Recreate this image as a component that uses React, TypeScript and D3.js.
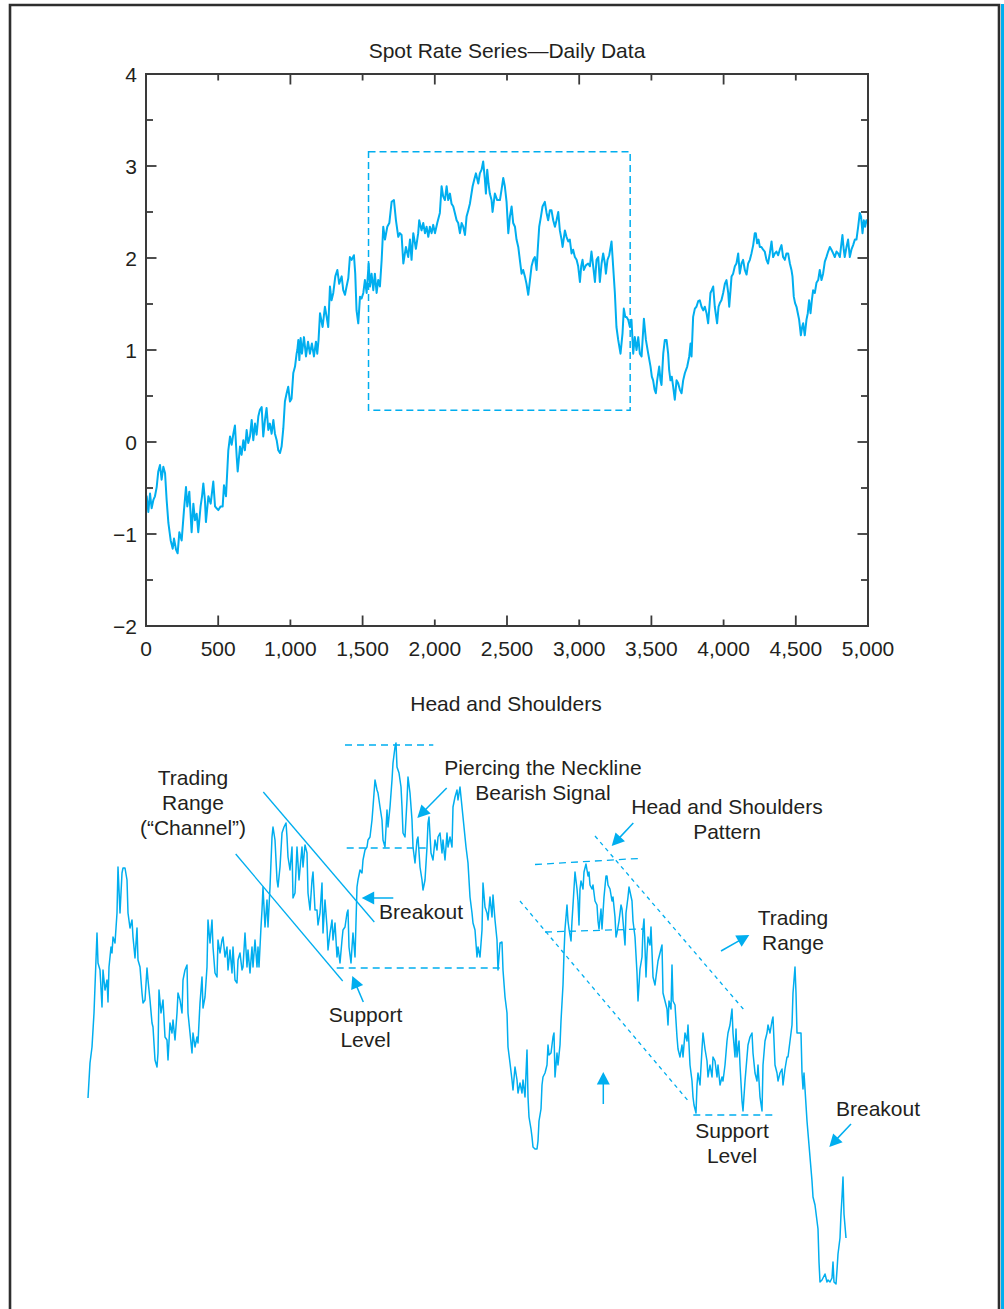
import React from 'react';
import * as d3 from 'd3';

// ---------- DATA ----------
// Spot rate series (day index, value)
const spotSeries: [number, number][] = [
  [0,-0.67],[5,-0.59],[16,-0.76],[28,-0.56],[39,-0.72],[51,-0.63],[62,-0.59],[74,-0.49],[85,-0.32],[97,-0.25],
  [108,-0.41],[120,-0.27],[132,-0.34],[143,-0.63],[155,-0.88],[171,-1.07],[185,-1.16],[194,-1.05],[208,-1.17],[219,-1.21],
  [231,-0.98],[247,-1.07],[263,-0.74],[277,-0.49],[286,-0.70],[300,-0.54],[316,-0.98],[328,-0.67],[339,-0.85],[351,-0.78],
  [362,-0.98],[378,-0.70],[388,-0.59],[397,-0.45],[408,-0.63],[415,-0.87],[432,-0.59],[448,-0.67],[466,-0.43],[478,-0.70],
  [489,-0.72],[501,-0.74],[517,-0.70],[531,-0.70],[540,-0.47],[554,-0.59],[570,-0.09],[582,0.06],[593,-0.03],[605,0.09],
  [616,0.18],[628,-0.16],[635,-0.32],[651,-0.05],[662,-0.14],[674,0.02],[685,-0.09],[697,0.13],[708,-0.01],[720,0.06],
  [732,0.24],[743,0.02],[755,0.20],[766,0.08],[778,0.28],[789,0.35],[801,0.38],[812,0.06],[824,0.24],[835,0.37],
  [847,0.13],[858,0.20],[870,0.09],[882,0.24],[893,0.09],[905,0.02],[916,-0.09],[928,-0.12],[939,-0.05],[951,0.15],
  [962,0.44],[974,0.53],[985,0.60],[997,0.44],[1008,0.47],[1020,0.75],[1032,0.82],[1043,0.96],[1048,1.0],[1055,1.11],
  [1062,0.89],[1071,1.13],[1080,0.96],[1094,1.14],[1108,0.93],[1122,1.09],[1135,0.96],[1149,1.07],[1163,0.93],[1177,1.09],
  [1186,0.96],[1195,1.11],[1205,1.40],[1223,1.25],[1239,1.47],[1251,1.36],[1262,1.25],[1274,1.69],[1285,1.54],[1297,1.62],
  [1311,1.80],[1325,1.87],[1338,1.72],[1355,1.80],[1366,1.65],[1378,1.60],[1389,1.69],[1401,1.78],[1412,2.01],[1424,1.98],
  [1440,2.03],[1449,1.83],[1458,1.43],[1470,1.29],[1482,1.58],[1493,1.56],[1505,1.62],[1516,1.76],[1528,1.62],[1542,1.94],
  [1551,1.69],[1562,1.83],[1574,1.65],[1585,1.83],[1597,1.62],[1608,1.76],[1620,1.69],[1632,1.98],[1643,2.34],[1655,2.20],
  [1671,2.34],[1685,2.38],[1701,2.61],[1717,2.63],[1731,2.41],[1747,2.23],[1758,2.27],[1770,2.25],[1782,1.94],[1800,2.12],
  [1816,2.01],[1828,2.20],[1839,1.98],[1851,2.27],[1869,2.10],[1885,2.27],[1892,2.41],[1908,2.30],[1920,2.38],[1932,2.27],
  [1943,2.34],[1955,2.23],[1966,2.34],[1978,2.27],[1989,2.36],[2001,2.27],[2017,2.38],[2035,2.49],[2047,2.78],[2058,2.67],
  [2070,2.63],[2082,2.78],[2093,2.63],[2105,2.70],[2116,2.59],[2128,2.56],[2139,2.49],[2151,2.41],[2162,2.38],[2174,2.27],
  [2186,2.38],[2197,2.34],[2209,2.25],[2220,2.45],[2232,2.52],[2243,2.59],[2262,2.78],[2273,2.85],[2285,2.92],[2301,2.81],
  [2312,2.92],[2324,2.96],[2335,3.05],[2347,2.85],[2354,2.70],[2363,2.96],[2372,2.81],[2381,2.70],[2393,2.63],[2400,2.50],
  [2416,2.70],[2432,2.63],[2451,2.63],[2462,2.74],[2474,2.87],[2485,2.78],[2497,2.61],[2509,2.27],[2520,2.45],[2532,2.56],
  [2543,2.38],[2555,2.34],[2566,2.20],[2578,2.12],[2589,1.98],[2601,1.83],[2612,1.87],[2624,1.80],[2635,1.72],[2647,1.60],
  [2659,1.76],[2670,1.91],[2682,1.98],[2693,2.01],[2705,1.87],[2714,2.12],[2723,2.34],[2735,2.45],[2746,2.56],[2762,2.61],
  [2774,2.49],[2785,2.41],[2797,2.52],[2808,2.52],[2820,2.41],[2832,2.34],[2843,2.41],[2855,2.50],[2866,2.30],[2878,2.20],
  [2885,2.12],[2901,2.30],[2912,2.23],[2924,2.18],[2935,2.20],[2947,2.05],[2958,2.09],[2970,2.01],[2982,1.98],[2993,1.91],
  [3005,1.74],[3014,1.91],[3023,1.98],[3032,1.87],[3046,1.92],[3062,1.94],[3074,1.91],[3085,2.07],[3097,1.91],[3109,1.74],
  [3120,1.98],[3132,2.01],[3143,1.74],[3155,1.94],[3166,2.05],[3178,1.94],[3185,1.83],[3196,1.98],[3208,2.03],[3224,2.18],
  [3235,1.91],[3247,1.62],[3258,1.25],[3270,1.11],[3286,0.96],[3293,1.07],[3300,1.18],[3309,1.45],[3319,1.36],[3328,1.36],
  [3339,1.33],[3351,1.25],[3362,1.33],[3374,0.96],[3385,1.14],[3397,1.0],[3409,1.14],[3420,0.96],[3432,0.93],[3448,1.34],
  [3462,1.11],[3478,0.96],[3494,0.82],[3503,0.71],[3512,0.67],[3522,0.57],[3531,0.53],[3540,0.67],[3554,0.82],[3563,0.67],
  [3570,0.62],[3582,0.96],[3593,1.11],[3605,1.11],[3616,0.96],[3623,0.78],[3632,0.67],[3641,0.71],[3651,0.60],[3662,0.46],
  [3674,0.67],[3685,0.64],[3697,0.57],[3709,0.53],[3720,0.67],[3732,0.75],[3748,0.82],[3762,0.93],[3771,1.07],[3778,0.93],
  [3789,1.36],[3801,1.45],[3812,1.47],[3824,1.53],[3835,1.54],[3847,1.47],[3859,1.43],[3870,1.47],[3882,1.40],[3893,1.29],
  [3900,1.43],[3909,1.62],[3918,1.65],[3928,1.69],[3939,1.47],[3955,1.29],[3965,1.47],[3974,1.51],[3985,1.54],[3997,1.62],
  [4009,1.72],[4020,1.76],[4032,1.62],[4039,1.47],[4048,1.65],[4055,1.80],[4066,1.83],[4078,1.91],[4089,1.94],[4101,2.05],
  [4112,1.83],[4124,1.94],[4135,1.98],[4147,1.87],[4159,1.82],[4170,1.94],[4182,1.98],[4193,2.05],[4205,2.14],[4216,2.27],
  [4223,2.27],[4232,2.16],[4242,2.20],[4251,2.12],[4262,2.12],[4274,2.09],[4285,2.07],[4297,1.98],[4308,1.94],[4320,2.05],
  [4332,2.18],[4343,2.01],[4355,2.05],[4366,2.07],[4378,2.03],[4389,2.09],[4401,2.14],[4412,2.01],[4424,1.98],[4435,2.05],
  [4447,2.05],[4459,1.94],[4470,1.87],[4477,1.80],[4486,1.58],[4495,1.51],[4505,1.47],[4514,1.40],[4523,1.33],[4535,1.16],
  [4544,1.25],[4551,1.29],[4562,1.16],[4574,1.33],[4583,1.40],[4592,1.54],[4602,1.40],[4611,1.54],[4620,1.65],[4632,1.62],
  [4643,1.73],[4655,1.76],[4666,1.87],[4678,1.76],[4689,1.83],[4701,1.96],[4712,2.01],[4724,2.07],[4736,2.12],[4747,2.09],
  [4759,2.05],[4770,2.01],[4782,2.07],[4793,2.05],[4805,2.01],[4816,2.16],[4823,2.25],[4832,2.09],[4839,2.01],[4851,2.12],
  [4862,2.20],[4874,2.01],[4885,2.09],[4897,2.14],[4909,2.20],[4920,2.20],[4932,2.34],[4943,2.49],[4952,2.45],[4962,2.27],
  [4971,2.41],[4980,2.34],[4989,2.41],[5000,2.38],
];

// Zoomed window (dashed box): day range and value range
const zoomDays: [number, number] = [1541, 3353];
const zoomValues: [number, number] = [0.345, 3.155];

// Head-and-shoulders panel series (day in window, level)
const hsSeries: [number, number][] = [
  [0,1.92],[2,2.27],[4,2.43],[6,2.77],[9,3.57],[10,3.27],[12,3.20],[14,2.83],[15,3.20],[17,3.00],
  [19,3.10],[20,2.88],[21,3.23],[23,3.43],[24,3.37],[25,3.53],[27,3.47],[29,3.77],[30,4.23],[32,3.77],
  [34,4.17],[35,4.22],[37,4.22],[39,4.10],[40,3.77],[42,3.62],[44,3.70],[45,3.53],[47,3.32],[49,3.62],
  [50,3.30],[52,3.23],[54,2.97],[55,2.87],[57,2.90],[59,3.22],[60,3.10],[62,2.90],[64,2.67],[65,2.63],
  [67,2.30],[69,2.23],[70,2.37],[71,3.00],[73,2.77],[75,2.90],[77,2.53],[79,2.50],[80,2.30],[82,2.67],
  [84,2.57],[85,2.70],[87,2.50],[89,2.77],[90,2.97],[92,2.90],[94,2.77],[95,3.10],[97,3.20],[99,3.25],
  [100,2.77],[102,2.57],[104,2.37],[105,2.57],[107,2.43],[109,2.53],[110,2.47],[112,2.87],[114,3.13],[115,2.82],
  [117,2.93],[119,3.23],[120,3.70],[122,3.47],[124,3.70],[125,3.43],[127,3.17],[129,3.13],[130,3.50],[132,3.37],
  [134,3.50],[135,3.53],[137,3.33],[139,3.43],[140,3.20],[142,3.40],[144,3.17],[145,3.43],[147,3.10],[149,3.07],
  [150,3.30],[152,3.37],[154,3.20],[155,3.23],[157,3.57],[159,3.23],[160,3.40],[162,3.17],[164,3.43],[165,3.23],
  [167,3.50],[169,3.23],[170,3.43],[171,3.23],[173,3.63],[174,3.80],[175,4.03],[177,3.63],[179,3.90],[180,3.63],
  [182,4.03],[184,4.53],[185,4.63],[187,4.50],[189,4.10],[190,4.03],[192,4.23],[194,4.57],[196,4.63],[198,4.67],
  [199,4.53],[200,4.33],[202,4.20],[204,4.43],[205,3.92],[207,3.97],[209,4.43],[211,4.10],[214,4.43],[215,4.23],
  [217,4.45],[219,4.37],[220,3.97],[222,3.80],[224,4.10],[225,4.18],[227,3.80],[229,3.80],[230,3.65],[232,3.77],
  [234,4.07],[235,3.57],[237,3.90],[239,3.63],[240,3.40],[242,3.57],[244,3.70],[245,3.50],[247,3.67],[249,3.33],
  [250,3.43],[252,3.27],[254,3.50],[255,3.60],[257,3.63],[259,3.77],[260,3.80],[261,3.43],[263,3.27],[264,3.43],
  [265,3.57],[267,3.33],[269,4.03],[270,4.10],[272,4.20],[274,4.17],[275,4.30],[277,4.40],[279,4.43],[280,4.50],
  [282,4.53],[284,4.70],[285,4.83],[287,5.10],[289,5.00],[290,4.97],[292,4.83],[294,4.70],[295,4.50],[297,4.43],
  [299,4.80],[300,4.63],[302,4.83],[304,5.10],[305,5.27],[307,5.43],[308,5.47],[309,5.23],[311,5.17],[313,5.03],
  [314,4.83],[315,4.57],[317,4.53],[319,4.90],[320,5.13],[322,4.97],[324,4.70],[325,4.43],[327,4.27],[329,4.50],
  [330,4.53],[332,4.23],[334,4.10],[335,4.00],[337,4.10],[339,4.43],[340,4.67],[341,4.73],[343,4.37],[345,4.30],
  [347,4.50],[349,4.40],[350,4.53],[352,4.57],[354,4.37],[355,4.50],[357,4.30],[359,4.57],[360,4.43],[362,4.53],
  [364,4.43],[365,4.83],[367,4.93],[369,5.00],[370,4.90],[372,5.03],[374,4.83],[376,4.63],[378,4.43],[380,4.27],
  [382,3.93],[384,3.77],[385,3.67],[387,3.60],[389,3.33],[390,3.43],[392,3.33],[394,3.60],[395,4.07],[397,3.83],
  [399,3.77],[400,3.70],[402,3.93],[404,3.73],[405,3.95],[407,3.70],[409,3.50],[410,3.20],[412,3.47],[414,3.48],
  [415,3.20],[417,2.93],[419,2.77],[420,2.43],[422,2.27],[424,2.10],[425,2.00],[427,2.23],[429,2.10],[430,1.97],
  [432,2.07],[434,1.97],[435,2.10],[437,1.93],[439,2.40],[440,1.93],[441,1.73],[443,1.61],[444,1.53],[445,1.43],
  [447,1.41],[449,1.41],[450,1.49],[451,1.69],[453,1.81],[454,2.05],[455,2.13],[457,2.17],[459,2.25],[460,2.45],
  [461,2.35],[463,2.37],[465,2.53],[466,2.57],[467,2.13],[468,2.25],[469,2.37],[470,2.25],[472,2.45],[473,2.69],
  [475,3.05],[476,3.37],[477,3.61],[479,3.85],[480,3.69],[481,3.61],[483,3.49],[484,3.69],[485,3.85],[487,4.18],
  [489,4.01],[490,3.89],[491,3.65],[492,4.01],[493,4.09],[495,4.01],[496,4.18],[498,4.26],[500,4.14],[501,4.18],
  [502,4.05],[504,4.01],[505,4.05],[507,3.89],[509,3.85],[510,3.69],[511,3.61],[513,3.81],[514,3.61],[516,3.93],
  [518,4.14],[519,4.14],[520,4.05],[522,4.01],[524,3.89],[525,3.93],[527,3.73],[528,3.53],[529,3.57],[531,3.69],
  [533,3.85],[534,3.81],[535,3.69],[537,3.45],[538,3.77],[540,3.93],[541,4.03],[544,3.89],[545,3.69],[547,3.53],
  [549,3.17],[550,2.89],[552,3.21],[554,3.33],[555,3.61],[556,3.71],[558,3.13],[559,3.37],[560,3.53],[562,3.45],
  [563,3.63],[565,3.13],[567,3.05],[569,3.21],[570,3.29],[572,3.37],[574,3.45],[575,2.97],[577,2.89],[579,2.81],
  [580,2.65],[581,2.89],[583,2.81],[584,3.25],[585,2.89],[587,2.85],[589,2.53],[590,2.41],[592,2.33],[594,2.45],
  [595,2.33],[597,2.57],[599,2.49],[600,2.65],[602,2.25],[604,2.09],[605,1.93],[606,1.85],[608,1.77],[609,2.05],
  [610,2.17],[612,2.05],[614,2.41],[615,2.57],[617,2.41],[619,2.29],[620,2.13],[622,2.25],[624,2.13],[625,2.33],
  [627,2.29],[629,2.13],[630,2.25],[632,2.05],[634,2.13],[635,2.09],[637,2.25],[639,2.49],[640,2.57],[642,2.65],
  [644,2.81],[645,2.57],[647,2.33],[648,2.61],[649,2.33],[651,2.49],[652,2.25],[654,1.89],[655,1.79],[657,2.09],
  [659,2.33],[660,2.45],[662,2.53],[664,2.57],[665,2.37],[667,2.17],[669,2.09],[670,2.25],[672,1.93],[674,1.79],
  [675,2.25],[677,2.49],[679,2.57],[680,2.65],[682,2.57],[684,2.69],[685,2.73],[687,2.25],[689,2.17],[690,2.09],
  [692,2.17],[694,2.21],[695,2.05],[697,2.21],[699,2.33],[700,2.33],[702,2.49],[704,2.65],[705,2.97],[707,3.23],
  [708,2.97],[709,2.57],[711,2.57],[713,2.57],[714,2.17],[715,2.01],[716,2.17],[718,1.85],[719,1.69],[721,1.45],
  [722,1.33],[724,1.09],[725,0.93],[727,0.85],[729,0.69],[730,0.61],[731,0.28],[732,0.08],[734,0.10],[735,0.12],
  [737,0.16],[739,0.08],[740,0.10],[742,0.08],[744,0.12],[745,0.28],[746,0.08],[748,0.06],[749,0.20],[750,0.36],
  [752,0.52],[753,0.76],[754,0.93],[755,1.13],[756,0.76],[757,0.64],[758,0.52],
];

// Axis ticks
const xTickValues = [0, 500, 1000, 1500, 2000, 2500, 3000, 3500, 4000, 4500, 5000];
const yTickValues = [-2, -1.5, -1, -0.5, 0, 0.5, 1, 1.5, 2, 2.5, 3, 3.5, 4];

// Annotation guide lines in panel units: [t1, v1, t2, v2]
const channelLines: [number, number, number, number][] = [
  [175.3, 4.98, 286.3, 3.68],
  [147.7, 4.36, 254.7, 3.09],
];
const levelLines: [number, number, number, number][] = [
  [257, 5.45, 345.3, 5.45],
  [258.7, 4.42, 338.7, 4.42],
  [248.7, 3.22, 415.3, 3.22],
  [447, 4.255, 550.3, 4.315],
  [457, 3.58, 555.3, 3.61],
  [605.3, 1.75, 686.3, 1.75],
];
const trendLines: [number, number, number, number][] = [
  [507, 4.54, 655.3, 2.81],
  [432, 3.89, 600.3, 1.89],
];
// Arrows: tail -> tip
const arrows: [number, number, number, number][] = [
  [305.3, 3.92, 273.7, 3.92],
  [275.3, 2.88, 264.3, 3.14],
  [358.7, 5.02, 329.3, 4.72],
  [545.3, 4.67, 523.7, 4.44],
  [633, 3.39, 661.3, 3.55],
  [515.3, 1.86, 515.3, 2.18],
  [763, 1.66, 741.3, 1.43],
];
// Labels: lines, center x, first baseline
const labels: { lines: string[]; x: number; y: number }[] = [
  { lines: ['Trading', 'Range', '(\u201CChannel\u201D)'], x: 193, y: 785 },
  { lines: ['Piercing the Neckline', 'Bearish Signal'], x: 543, y: 775 },
  { lines: ['Head and Shoulders', 'Pattern'], x: 727, y: 814 },
  { lines: ['Trading', 'Range'], x: 793, y: 925 },
  { lines: ['Breakout'], x: 421, y: 919 },
  { lines: ['Support', 'Level'], x: 365.5, y: 1021.5 },
  { lines: ['Support', 'Level'], x: 732, y: 1137.5 },
  { lines: ['Breakout'], x: 878, y: 1116 },
];

// ---------- STYLE ----------
const BLUE = '#00aeef';
const INK = '#231f20';
const AXIS = '#3a3a3a';
const FONT = '"Liberation Sans", Arial, Helvetica, sans-serif';
const FS = 21;

export default function App() {
  const x = d3.scaleLinear().domain([0, 5000]).range([146, 868]);
  const y = d3.scaleLinear().domain([-2, 4]).range([626, 74]);
  const line = d3.line<[number, number]>().x(d => x(d[0])).y(d => y(d[1]));

  const bx = d3.scaleLinear().domain([0, 760]).range([88, 848]);
  const by = d3.scaleLinear().domain([0, 5.5]).range([1290, 740]);
  const bline = d3.line<[number, number]>().x(d => bx(d[0])).y(d => by(d[1]));

  const fmtX = d3.format(',');
  const fmtY = d3.format('d');

  const arrowEls = arrows.map((a, i) => {
    const x1 = bx(a[0]), y1 = by(a[1]), x2 = bx(a[2]), y2 = by(a[3]);
    const dx = x2 - x1, dy = y2 - y1;
    const len = Math.hypot(dx, dy);
    const ux = dx / len, uy = dy / len;
    const hl = 12.5, hw = 6.5;
    const bxp = x2 - ux * hl, byp = y2 - uy * hl;
    const pts = [
      [x2, y2],
      [bxp - uy * hw, byp + ux * hw],
      [bxp + uy * hw, byp - ux * hw],
    ].map(p => p.join(',')).join(' ');
    return (
      <g key={'ar' + i}>
        <line x1={x1} y1={y1} x2={bxp + ux} y2={byp + uy} stroke={BLUE} strokeWidth={1.5} />
        <polygon points={pts} fill={BLUE} />
      </g>
    );
  });

  return (
    <svg width={1004} height={1309} style={{ position: 'absolute', left: 0, top: 0, background: '#fff' }}
      fontFamily={FONT}>
      <rect x={0} y={0} width={1004} height={1309} fill="#fff" />
      {/* frame */}
      <path d="M10,1312 V5 H999 V1312" fill="none" stroke="#2e2e2e" strokeWidth={2.6} />
      <rect x={1001} y={4} width={3} height={1305} fill={BLUE} />

      {/* ---------- top panel ---------- */}
      <text x={507} y={58} textAnchor="middle" fontSize={FS} fill={INK}>Spot Rate Series{'\u2014'}Daily Data</text>

      <path d={line(spotSeries) || ''} fill="none" stroke={BLUE} strokeWidth={2} strokeLinejoin="round" />

      <rect x={x(zoomDays[0])} y={y(zoomValues[1])} width={x(zoomDays[1]) - x(zoomDays[0])}
        height={y(zoomValues[0]) - y(zoomValues[1])} fill="none" stroke={BLUE} strokeWidth={1.5} strokeDasharray="7,4" />

      {/* ticks */}
      {xTickValues.filter(v => v > 0 && v < 5000).map(v => {
        const topLong = v % 1000 === 0;
        return (
          <g key={'xt' + v}>
            <line x1={x(v)} x2={x(v)} y1={74} y2={74 + (topLong ? 10.5 : 6.5)} stroke={AXIS} strokeWidth={1.8} />
            <line x1={x(v)} x2={x(v)} y1={626} y2={626 - (topLong ? 6.5 : 10.5)} stroke={AXIS} strokeWidth={1.8} />
          </g>
        );
      })}
      {yTickValues.filter(v => v > -2 && v < 4).map(v => {
        const long = Number.isInteger(v);
        return (
          <g key={'yt' + v}>
            <line x1={146} x2={146 + (long ? 10.5 : 7)} y1={y(v)} y2={y(v)} stroke={AXIS} strokeWidth={1.8} />
            <line x1={868} x2={868 - (long ? 10.5 : 7)} y1={y(v)} y2={y(v)} stroke={AXIS} strokeWidth={1.8} />
          </g>
        );
      })}
      <rect x={146} y={74} width={722} height={552} fill="none" stroke={AXIS} strokeWidth={2} />

      {xTickValues.map(v => (
        <text key={'xl' + v} x={x(v)} y={656} textAnchor="middle" fontSize={FS} fill={INK}>{fmtX(v)}</text>
      ))}
      {yTickValues.filter(v => Number.isInteger(v)).map(v => (
        <text key={'yl' + v} x={137} y={y(v) + 7.5} textAnchor="end" fontSize={FS} fill={INK}>{fmtY(v)}</text>
      ))}

      {/* ---------- bottom panel ---------- */}
      <text x={506} y={711} textAnchor="middle" fontSize={FS} fill={INK}>Head and Shoulders</text>

      <path d={bline(hsSeries) || ''} fill="none" stroke={BLUE} strokeWidth={1.5} strokeLinejoin="round" />

      {channelLines.map((l, i) => (
        <line key={'ch' + i} x1={bx(l[0])} y1={by(l[1])} x2={bx(l[2])} y2={by(l[3])} stroke={BLUE} strokeWidth={1.3} />
      ))}
      {levelLines.map((l, i) => (
        <line key={'lv' + i} x1={bx(l[0])} y1={by(l[1])} x2={bx(l[2])} y2={by(l[3])} stroke={BLUE} strokeWidth={1.3} strokeDasharray="7,5" />
      ))}
      {trendLines.map((l, i) => (
        <line key={'tr' + i} x1={bx(l[0])} y1={by(l[1])} x2={bx(l[2])} y2={by(l[3])} stroke={BLUE} strokeWidth={1.3} strokeDasharray="4,4" />
      ))}
      {arrowEls}

      {labels.map((lb, i) => (
        <text key={'lb' + i} x={lb.x} y={lb.y} textAnchor="middle" fontSize={FS} fill={INK}>
          {lb.lines.map((s, j) => (
            <tspan key={j} x={lb.x} y={lb.y + j * 25}>{s}</tspan>
          ))}
        </text>
      ))}
    </svg>
  );
}
